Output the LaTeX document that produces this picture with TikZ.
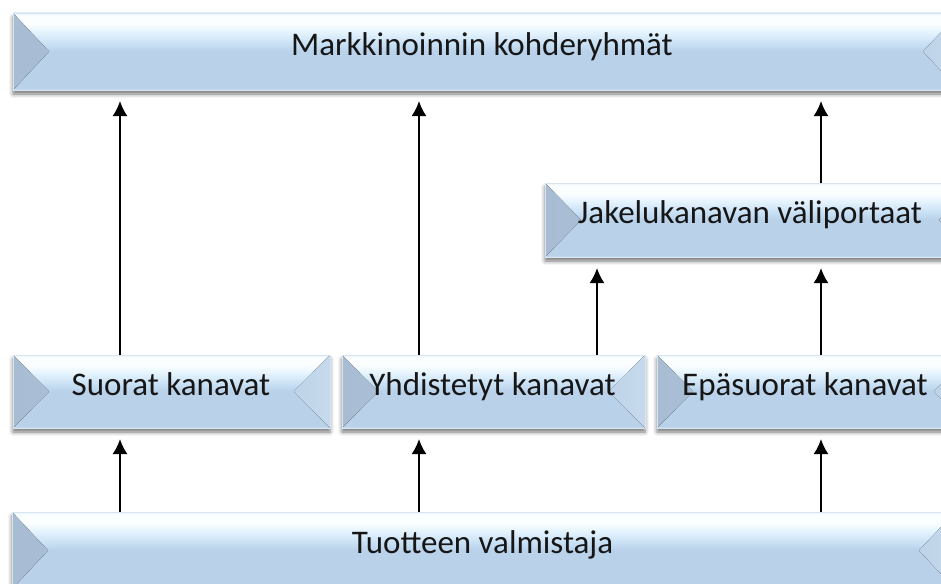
\documentclass[tikz,border=0pt]{standalone}
\usepackage{fontspec}
\setmainfont{Carlito}
\usetikzlibrary{shadows.blur,arrows.meta,calc}

% face colours of the bevelled boxes
\definecolor{faceT}{HTML}{E8F2FA}
\definecolor{faceW}{HTML}{FBFEFF}
\definecolor{faceL}{HTML}{E2F2FD}
\definecolor{faceM}{HTML}{C8E0F4}
\definecolor{faceB}{HTML}{B9D1E9}
\definecolor{faceE}{HTML}{CADCEE}
\definecolor{bevelL1}{HTML}{A8BDD4}
\definecolor{bevelL2}{HTML}{B9CEE3}
\definecolor{bevelR1}{HTML}{BED3E8}
\definecolor{bevelR2}{HTML}{C7DAED}
\definecolor{edge}{HTML}{D6E5F1}
\definecolor{ink}{HTML}{161616}

% top half: white highlight fading to light blue; bottom half: flat face
\pgfdeclareverticalshading{bevelface}{100bp}{%
  color(0bp)=(faceE); color(25bp)=(faceE); color(26.5bp)=(faceB);
  color(50bp)=(faceB); color(55bp)=(faceM); color(62bp)=(faceL);
  color(68bp)=(faceW); color(73.5bp)=(faceW); color(75bp)=(faceT);
  color(100bp)=(faceT)}

\tikzset{
  bevelbox/.style={
    rectangle, inner sep=0pt, outer sep=0pt,
    shading=bevelface, draw=edge, line width=0.8pt,
    blur shadow={shadow xshift=0pt, shadow yshift=-4pt,
                 shadow blur radius=4pt, shadow opacity=55},
    path picture={
      \fill[left color=bevelL1, right color=bevelL2]
        (path picture bounding box.north west)
        -- ([xshift=36pt]path picture bounding box.west)
        -- (path picture bounding box.south west) -- cycle;
      \fill[left color=bevelR1, right color=bevelR2]
        (path picture bounding box.north east)
        -- ([xshift=-36pt]path picture bounding box.east)
        -- (path picture bounding box.south east) -- cycle;
    }},
  boxlabel/.style={anchor=base, inner sep=0pt, text=ink,
    font=\fontsize{33}{40}\selectfont},
  uparrow/.style={-{Latex[width=15pt,length=15pt]}, line width=2pt,
    black, shorten >=11pt}
}

\begin{document}
\begin{tikzpicture}[x=1pt,y=-1pt]
  \useasboundingbox (0,0) rectangle (941,583);
  \clip (0,0) rectangle (941,583);

  % boxes
  \node[bevelbox, minimum width=946pt, minimum height=77pt] (kohde) at (486,51.5) {};
  \node[bevelbox, minimum width=430pt, minimum height=74pt] (jakelu) at (760,220) {};
  \node[bevelbox, minimum width=317pt, minimum height=73pt] (suorat) at (171.5,391.5) {};
  \node[bevelbox, minimum width=303pt, minimum height=73pt] (yhdist) at (493.5,391.5) {};
  \node[bevelbox, minimum width=313pt, minimum height=73pt] (epasuorat) at (813.5,391.5) {};
  \node[bevelbox, minimum width=943pt, minimum height=77pt] (tuote) at (483.5,550.5) {};

  % box texts
  \node[boxlabel] (kohdeT) at (482,56) {Markkinoinnin kohderyhmät};
  \node[boxlabel] (jakeluT) at (750,223) {Jakelukanavan väliportaat};
  \node[boxlabel] (suoratT) at (171,395) {Suorat kanavat};
  \node[boxlabel] (yhdistT) at (492.5,395) {Yhdistetyt kanavat};
  \node[boxlabel] (epasuoratT) at (805,395) {Epäsuorat kanavat};
  \node[boxlabel] (tuoteT) at (482.5,553) {Tuotteen valmistaja};

  % columns of the connectors
  \coordinate (c1) at (120,0);
  \coordinate (c2) at (419,0);
  \coordinate (c3) at (597,0);
  \coordinate (c4) at (821,0);

  % connectors
  \draw[uparrow] (tuote.north -| c1) -- (suorat.south -| c1);
  \draw[uparrow] (tuote.north -| c2) -- (yhdist.south -| c2);
  \draw[uparrow] (tuote.north -| c4) -- (epasuorat.south -| c4);
  \draw[uparrow] (suorat.north -| c1) -- (kohde.south -| c1);
  \draw[uparrow] (yhdist.north -| c2) -- (kohde.south -| c2);
  \draw[uparrow] (yhdist.north -| c3) -- (jakelu.south -| c3);
  \draw[uparrow] (epasuorat.north -| c4) -- (jakelu.south -| c4);
  \draw[uparrow] (jakelu.north -| c4) -- (kohde.south -| c4);
\end{tikzpicture}
\end{document}
